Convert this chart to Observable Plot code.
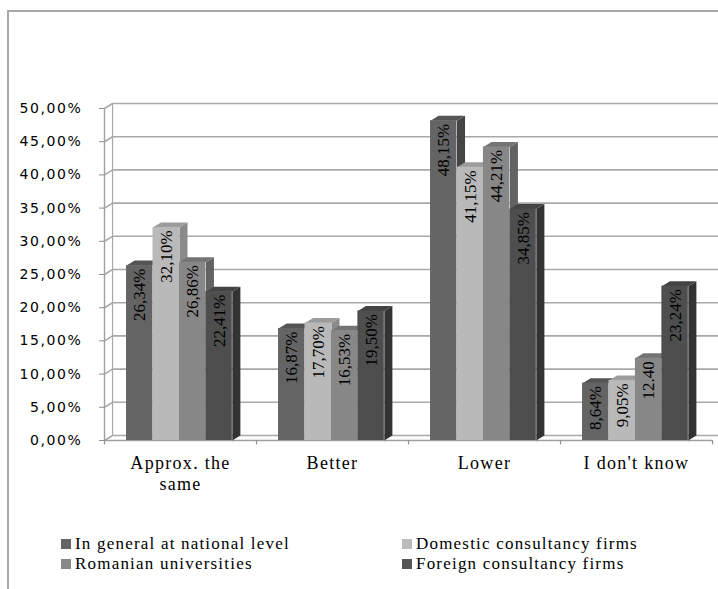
<!DOCTYPE html>
<html>
<head>
<meta charset="utf-8">
<script src="https://cdn.jsdelivr.net/npm/d3@7"></script>
<script src="https://cdn.jsdelivr.net/npm/@observablehq/plot@0.6"></script>
<style>
  html, body { margin: 0; padding: 0; background: #fff; }
  #wrap { position: relative; width: 718px; height: 589px; overflow: hidden; background: #fff; }
  #frame { position: absolute; left: 7px; top: 10px; right: -10px; bottom: -10px; border-left: 2px solid #a8a8a8; border-top: 2px solid #a8a8a8; }
  #chart { position: absolute; left: 0; top: 0; }
  #chart g[aria-label="y-axis tick label"] text { letter-spacing: 1.6px; }
  #legend { position: absolute; left: 0; top: 534px; width: 718px; font-family: 'Liberation Serif'; font-size: 17px; letter-spacing: 1.2px; color: #000; }
  .item { position: absolute; display: flex; align-items: center; white-space: nowrap; }
  .sw { width: 10px; height: 10px; margin-right: 4px; }
</style>
</head>
<body>
<div id="wrap">
  <div id="frame"></div>
  <div id="chart"></div>
  <div id="legend"></div>
</div>
<script>
// ---- data ----
const categories = ["Approx. the same", "Better", "Lower", "I don't know"];
const categoryLabels = ["Approx. the\nsame", "Better", "Lower", "I don't know"];
const series = ["In general at national level", "Domestic consultancy firms", "Romanian universities", "Foreign consultancy firms"];

const national = [26.34, 16.87, 48.15, 8.64];
const domestic = [32.10, 17.70, 41.15, 9.05];
const romanian = [26.86, 16.53, 44.21, 12.40];
const foreign  = [22.41, 19.50, 34.85, 23.24];

const nationalLabels = ["26,34%", "16,87%", "48,15%", "8,64%"];
const domesticLabels = ["32,10%", "17,70%", "41,15%", "9,05%"];
const romanianLabels = ["26,86%", "16,53%", "44,21%", "12.40"];
const foreignLabels  = ["22,41%", "19,50%", "34,85%", "23,24%"];

const yTicks = [0, 5, 10, 15, 20, 25, 30, 35, 40, 45, 50];
const yTickLabels = ["0,00%", "5,00%", "10,00%", "15,00%", "20,00%", "25,00%", "30,00%", "35,00%", "40,00%", "45,00%", "50,00%"];

// ---- styling ----
const SERIF = "Liberation Serif";
const frontColors = ["#646464", "#b9b9b9", "#878787", "#4e4e4e"];
const topColors   = ["#555555", "#9c9c9c", "#747474", "#444444"];
const sideColors  = ["#454545", "#8a8a8a", "#626262", "#333333"];
const legendColors = ["#666666", "#bcbcbc", "#898989", "#555555"];

const valuesBySeries = [national, domestic, romanian, foreign];
const labelsBySeries = [nationalLabels, domesticLabels, romanianLabels, foreignLabels];

// geometry in data units (category = 1 unit wide; depth for 3-D effect)
const groupStart = 0.145, barW = 0.174;
const depthX = 0.053, depthY = 0.75;

const bars = [];
series.forEach((s, j) => {
  categories.forEach((c, i) => {
    const x1 = i + groupStart + j * barW;
    bars.push({series: s, sj: j, category: c, ci: i, value: valuesBySeries[j][i], label: labelsBySeries[j][i], x1, x2: x1 + barW});
  });
});

function topFace(b) {
  const id = b.sj + "-" + b.ci;
  return [
    {id, x: b.x1, y: b.value},
    {id, x: b.x2, y: b.value},
    {id, x: b.x2 + depthX, y: b.value + depthY},
    {id, x: b.x1 + depthX, y: b.value + depthY}
  ];
}
function sideFace(b) {
  const id = b.sj + "-" + b.ci;
  return [
    {id, x: b.x2, y: 0},
    {id, x: b.x2, y: b.value},
    {id, x: b.x2 + depthX, y: b.value + depthY},
    {id, x: b.x2 + depthX, y: depthY}
  ];
}

// back-wall gridlines
const gridPts = [];
yTicks.forEach(t => {
  gridPts.push({t, x: 0, y: t});
  gridPts.push({t, x: depthX, y: t + depthY});
  gridPts.push({t, x: 4 + depthX + 0.1, y: t + depthY});
});

const marks = [];
marks.push(Plot.line(gridPts, {x: "x", y: "y", z: "t", stroke: "#a9a9a9", strokeWidth: 1.6}));
marks.push(Plot.ruleX([depthX], {y1: depthY, y2: 50 + depthY, stroke: "#a9a9a9", strokeWidth: 1.2}));
marks.push(Plot.ruleY([0], {x1: 0, x2: 4, stroke: "#a0a0a0", strokeWidth: 1.6}));
marks.push(Plot.ruleX([0, 1, 2, 3, 4], {y1: 0, y2: -0.65, stroke: "#909090", strokeWidth: 1.2}));
marks.push(Plot.ruleX([0], {y1: 0, y2: 50, stroke: "#a0a0a0", strokeWidth: 1.4}));

series.forEach((s, j) => {
  const bs = bars.filter(b => b.sj === j);
  marks.push(Plot.line(bs.flatMap(sideFace), {x: "x", y: "y", z: "id", fill: sideColors[j], stroke: "none"}));
  marks.push(Plot.line(bs.flatMap(topFace), {x: "x", y: "y", z: "id", fill: topColors[j], stroke: "none"}));
  marks.push(Plot.rectY(bs, {x1: "x1", x2: "x2", y1: 0, y2: "value", fill: frontColors[j]}));
});

marks.push(Plot.text(bars, {
  x: b => (b.x1 + b.x2) / 2, y: "value", text: "label",
  rotate: -90, textAnchor: "end", dy: 3,
  fontFamily: SERIF, fontSize: 17, fill: "#000"
}));

marks.push(Plot.axisY({
  ticks: yTicks, tickFormat: (d) => yTickLabels[yTicks.indexOf(d)],
  tickSize: 5, tickPadding: 17, fontSize: 14, fontFamily: "DejaVu Sans",
  stroke: "#909090", color: "#000", label: null
}));
marks.push(Plot.text(categories, {
  x: (d, i) => i + 0.5, y: 0, text: (d, i) => categoryLabels[i],
  lineAnchor: "top", dy: 14, lineHeight: 1.15,
  fontFamily: SERIF, fontSize: 18, fill: "#000"
}));

const chart = Plot.plot({
  width: 718, height: 500,
  marginTop: 108, marginBottom: 60, marginLeft: 104, marginRight: 6,
  x: {domain: [0, 4], axis: null},
  y: {domain: [0, 50], axis: null},
  style: {background: "transparent", overflow: "visible"},
  marks
});
document.getElementById("chart").appendChild(chart);
// widen category labels like the reference
d3.select(chart).selectAll("text").filter(function() { return this.getAttribute("font-size") === "18"; });
d3.select(chart).selectAll("g").filter(function() {
  return this.getAttribute("font-size") === "18";
}).attr("letter-spacing", "1.3px");

const legend = document.getElementById("legend");
const legendPos = [[61, 0], [402, 0], [61, 20], [402, 20]];
series.forEach((s, j) => {
  const it = document.createElement("div");
  it.className = "item";
  it.style.left = legendPos[j][0] + "px";
  it.style.top = legendPos[j][1] + "px";
  const sw = document.createElement("span");
  sw.className = "sw";
  sw.style.background = legendColors[j];
  const tx = document.createElement("span");
  tx.textContent = s;
  it.appendChild(sw); it.appendChild(tx);
  legend.appendChild(it);
});
</script>
</body>
</html>
